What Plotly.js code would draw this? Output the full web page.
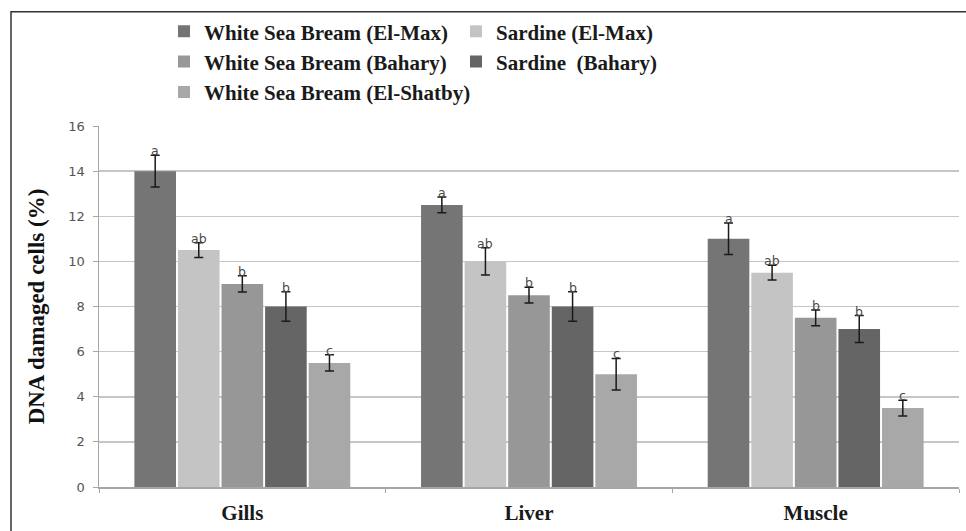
<!DOCTYPE html>
<html>
<head>
<meta charset="utf-8">
<script src="https://cdn.plot.ly/plotly-3.0.1.min.js"></script>
<style>html,body{margin:0;padding:0;background:#fff;}#chart{width:966px;height:531px;}</style>
</head>
<body>
<div id="chart"></div>
<script>
const categories = ["Gills", "Liver", "Muscle"];
const seriesNames = [
  "White Sea Bream (El-Max)",
  "Sardine (El-Max)",
  "White Sea Bream (Bahary)",
  "Sardine  (Bahary)",
  "White Sea Bream (El-Shatby)"
];
const wsbElMax   = [14.0, 12.5, 11.0];
const sarElMax   = [10.5, 10.0, 9.5];
const wsbBahary  = [9.0, 8.5, 7.5];
const sarBahary  = [8.0, 8.0, 7.0];
const wsbShatby  = [5.5, 5.0, 3.5];

const errWsbElMax  = [0.7, 0.35, 0.7];
const errSarElMax  = [0.33, 0.6, 0.33];
const errWsbBahary = [0.36, 0.35, 0.35];
const errSarBahary = [0.65, 0.65, 0.6];
const errWsbShatby = [0.36, 0.7, 0.35];

const letters = ["a", "ab", "b", "b", "c"];
const yTicks = [0, 2, 4, 6, 8, 10, 12, 14, 16];

const values = [wsbElMax, sarElMax, wsbBahary, sarBahary, wsbShatby];
const errors = [errWsbElMax, errSarElMax, errWsbBahary, errSarBahary, errWsbShatby];
const colors = ["#757575", "#c4c4c4", "#979797", "#656565", "#a8a8a8"];

const bargap = 0.24;
const nS = values.length;

const traces = values.map((v, i) => ({
  type: "bar",
  name: seriesNames[i],
  x: categories,
  y: v,
  marker: {color: colors[i], line: {width: 0}},
  error_y: {type: "data", array: errors[i], visible: true, color: "#1a1a1a", thickness: 1.5, width: 4.5},
  hoverinfo: "skip"
}));

const annotations = [];
values.forEach((v, i) => {
  v.forEach((val, ci) => {
    const xpos = ci - (1 - bargap) / 2 + (i + 0.5) * (1 - bargap) / nS;
    annotations.push({
      x: xpos, y: val + errors[i][ci], xref: "x", yref: "y",
      text: letters[i], showarrow: false, yanchor: "bottom", yshift: -5,
      font: {family: "DejaVu Sans, Verdana, sans-serif", size: 12.5, color: "#4a4a4a"}
    });
  });
});

const L = 99, R = 7, T = 126, B = 43.5;
const W = 966, H = 531;
const pw = W - L - R, ph = H - T - B;

const layout = {
  width: W, height: H,
  margin: {l: L, r: R, t: T, b: B, pad: 0},
  paper_bgcolor: "#fff", plot_bgcolor: "#fff",
  barmode: "group", bargap: bargap, bargroupgap: 0.045,
  showlegend: true,
  legend: {
    orientation: "h", x: (164 - L) / pw, xanchor: "left",
    y: (H - B - 11) / ph, yanchor: "top",
    entrywidth: 247, itemwidth: 30,
    font: {family: "Liberation Serif, Times New Roman, serif", size: 21, color: "#1a1a1a", weight: "bold"},
    bgcolor: "rgba(0,0,0,0)"
  },
  xaxis: {
    type: "category", showgrid: false, showline: true, linecolor: "#a6a6a6", linewidth: 1.5,
    ticks: "outside", tickson: "boundaries", ticklen: 4, tickcolor: "#a6a6a6",
    tickfont: {family: "Liberation Serif, Times New Roman, serif", size: 21, color: "#1a1a1a", weight: "bold"},
    ticklabelstandoff: 6, zeroline: false
  },
  yaxis: {
    range: [0, 16], tickvals: yTicks, ticktext: yTicks.map(String),
    showgrid: true, gridcolor: "#c6c6c6", gridwidth: 1.5,
    showline: true, linecolor: "#a6a6a6", linewidth: 1.5,
    ticks: "outside", ticklen: 5, tickcolor: "#a6a6a6",
    tickfont: {family: "DejaVu Sans, Verdana, sans-serif", size: 13, color: "#555"},
    ticklabelstandoff: 5,
    zeroline: false,
    title: {text: "DNA damaged cells (%)", standoff: 17,
      font: {family: "Liberation Serif, Times New Roman, serif", size: 23, color: "#111", weight: "bold"}}
  },
  shapes: [{
    type: "rect", xref: "paper", yref: "paper",
    x0: (11 - L) / pw, x1: (W + 20 - L) / pw,
    y0: -0.3, y1: (H - B - 11.5) / ph,
    line: {color: "#333", width: 1.5}, fillcolor: "rgba(0,0,0,0)", layer: "above"
  }],
  annotations: annotations
};

Plotly.newPlot("chart", traces, layout, {displayModeBar: false, staticPlot: true});
</script>
</body>
</html>
